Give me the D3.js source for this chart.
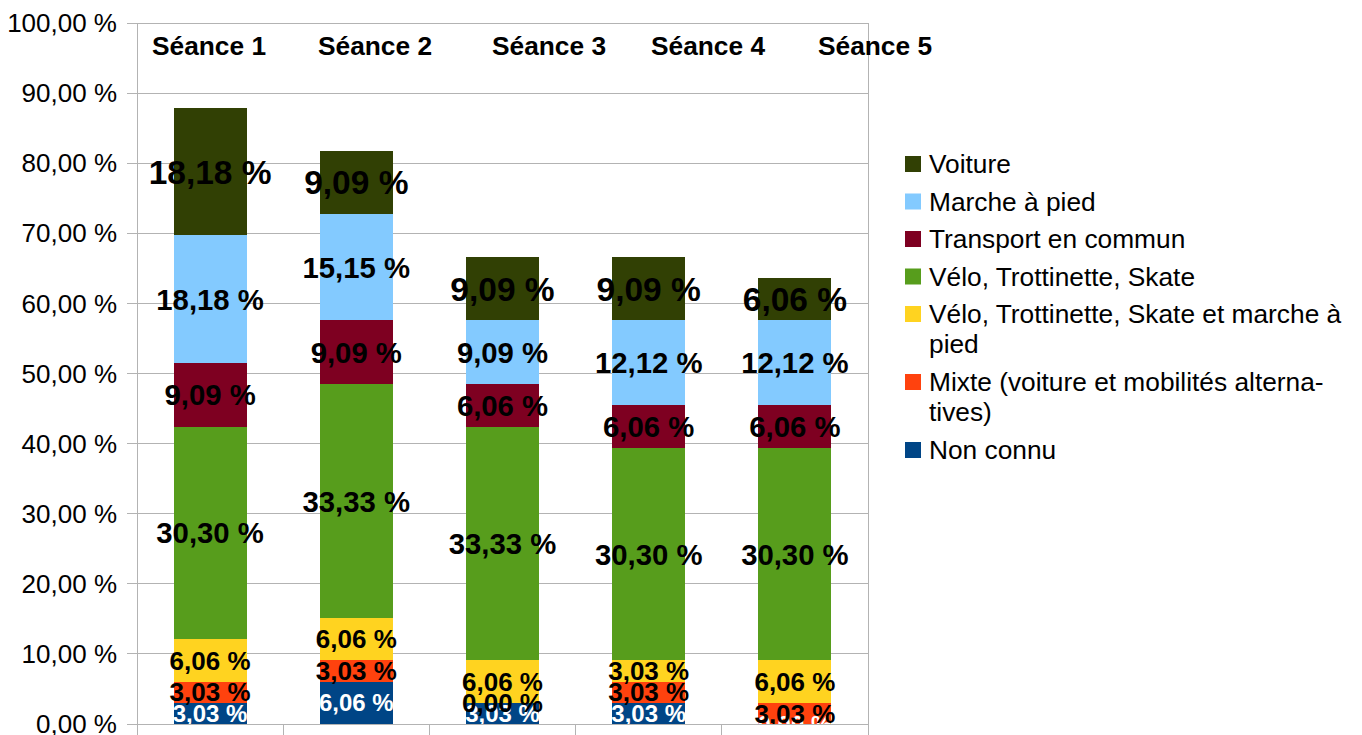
<!DOCTYPE html>
<html><head><meta charset="utf-8">
<script src="https://cdn.jsdelivr.net/npm/d3@7/dist/d3.min.js"></script>
<style>body{margin:0;background:#fff;} svg{display:block;}</style>
</head><body>
<svg id="c" width="1362" height="735"></svg>
<script>
// ---- data ----
const categories = ["Séance 1", "Séance 2", "Séance 3", "Séance 4", "Séance 5"];
const seriesNames = ["Non connu", "Mixte (voiture et mobilités alternatives)", "Vélo, Trottinette, Skate et marche à pied", "Vélo, Trottinette, Skate", "Transport en commun", "Marche à pied", "Voiture"];
const nonConnu   = [3.03, 6.06, 3.03, 3.03, 0.00];
const mixte      = [3.03, 3.03, 0.00, 3.03, 3.03];
const veloMarche = [6.06, 6.06, 6.06, 3.03, 6.06];
const velo       = [30.30, 33.33, 33.33, 30.30, 30.30];
const transport  = [9.09, 9.09, 6.06, 6.06, 6.06];
const marche     = [18.18, 15.15, 9.09, 12.12, 12.12];
const voiture    = [18.18, 9.09, 9.09, 9.09, 6.06];
const yTicks = [0, 10, 20, 30, 40, 50, 60, 70, 80, 90, 100];
const legendLines = [
  ["Non connu"],
  ["Mixte (voiture et mobilités alterna-", "tives)"],
  ["Vélo, Trottinette, Skate et marche à", "pied"],
  ["Vélo, Trottinette, Skate"],
  ["Transport en commun"],
  ["Marche à pied"],
  ["Voiture"]
];

// ---- styles ----
const colors = ["#004586", "#ff420e", "#ffd320", "#579d1c", "#7e0021", "#83caff", "#314004"];
const labelColors = ["#ffffff", "#000", "#000", "#000", "#000", "#000", "#000"];
const labelSizes = [24, 26, 26, 29.3, 29.3, 29.3, 33.5];
const catLabelX = [209, 375, 549, 708, 875];
const FONT = "'Liberation Sans', Arial, sans-serif";

(function () {
const seriesValues = [nonConnu, mixte, veloMarche, velo, transport, marche, voiture];
const rows = categories.map((c, i) => {
  const r = {cat: c};
  seriesNames.forEach((s, k) => r[s] = seriesValues[k][i]);
  return r;
});
const stacked = d3.stack().keys(seriesNames)(rows);

const loc = d3.formatLocale({decimal: ",", thousands: " ", grouping: [3], currency: ["", " €"]});
const f2 = loc.format(".2f");
const pct = v => f2(v) + " %";

const svg = d3.select("#c");
const pL = 137, pR = 868, pT = 23, pB = 724;
const x = d3.scaleBand().domain(categories).range([pL, pR]).paddingInner(0.5).paddingOuter(0.25);
const y = d3.scaleLinear().domain([0, 100]).range([pB, pT]);

// gridlines
svg.append("g").selectAll("line").data(yTicks).join("line")
  .attr("x1", pL - 10).attr("x2", pR)
  .attr("y1", d => y(d)).attr("y2", d => y(d))
  .attr("stroke", "#b3b3b3").attr("stroke-width", 1).attr("shape-rendering", "crispEdges");
// axis line
svg.append("line").attr("x1", pL).attr("x2", pL).attr("y1", pT).attr("y2", pB)
  .attr("stroke", "#b3b3b3").attr("shape-rendering", "crispEdges");
// bottom category ticks
const bounds = d3.range(categories.length + 1).map(i => pL + i * (pR - pL) / categories.length);
svg.append("g").selectAll("line").data(bounds).join("line")
  .attr("x1", d => d).attr("x2", d => d)
  .attr("y1", (d, i) => i === bounds.length - 1 ? pT : pB).attr("y2", 740)
  .attr("stroke", "#b3b3b3").attr("shape-rendering", "crispEdges");

// y tick labels
svg.append("g").selectAll("text").data(yTicks).join("text")
  .attr("x", 117).attr("y", d => y(d)).attr("dy", "0.35em")
  .attr("text-anchor", "end").attr("font-family", FONT).attr("font-size", 26)
  .attr("fill", "#000").text(d => pct(d));

// bars
const gBars = svg.append("g");
stacked.forEach((layer, k) => {
  gBars.append("g").attr("fill", colors[k]).selectAll("rect").data(layer).join("rect")
    .attr("x", d => x(d.data.cat)).attr("width", x.bandwidth())
    .attr("y", d => y(d[1])).attr("height", d => Math.max(0, y(d[0]) - y(d[1])))
    .attr("shape-rendering", "crispEdges");
});

// data labels
svg.append("defs").append("clipPath").attr("id", "pc").append("rect")
  .attr("x", pL).attr("y", pT).attr("width", pR - pL).attr("height", pB - pT);
const gLab = svg.append("g").attr("clip-path", "url(#pc)");
stacked.forEach((layer, k) => {
  gLab.append("g").selectAll("text").data(layer).join("text")
    .attr("x", d => x(d.data.cat) + x.bandwidth() / 2)
    .attr("y", d => (y(d[0]) + y(d[1])) / 2).attr("dy", "0.36em")
    .attr("text-anchor", "middle").attr("font-family", FONT).attr("font-weight", "bold")
    .attr("font-size", labelSizes[k]).attr("fill", labelColors[k])
    .text(d => pct(d[1] - d[0]));
});

// category labels at top
svg.append("g").selectAll("text").data(categories).join("text")
  .attr("x", (d, i) => catLabelX[i]).attr("y", 55)
  .attr("text-anchor", "middle").attr("font-family", FONT).attr("font-weight", "bold")
  .attr("font-size", 26.3).attr("fill", "#000").text(d => d);

// legend (top = last series)
const legendOrder = d3.range(seriesNames.length).reverse();
let ly = 164;
const gLeg = svg.append("g");
legendOrder.forEach(k => {
  gLeg.append("rect").attr("x", 905).attr("y", ly - 8).attr("width", 16).attr("height", 16).attr("fill", colors[k]);
  legendLines[k].forEach((line, j) => {
    gLeg.append("text").attr("x", 929).attr("y", ly + j * 30).attr("dy", "0.36em")
      .attr("font-family", FONT).attr("font-size", 26.3).attr("fill", "#000").text(line);
  });
  ly += 37.5 + (legendLines[k].length - 1) * 30.5;
});
})();
</script>
</body></html>
